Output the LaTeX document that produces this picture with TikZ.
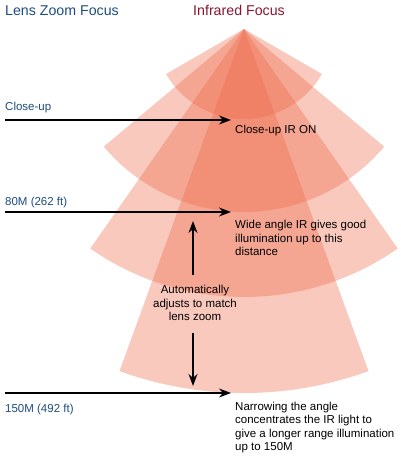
\documentclass[tikz,border=0pt]{standalone}
\usepackage{fontspec}
\setmainfont{Liberation Sans}
\usetikzlibrary{arrows.meta}

\definecolor{zoomblue}{RGB}{28,76,128}
\definecolor{irred}{RGB}{135,22,48}
\definecolor{beamcol}{RGB}{238,104,72}

\tikzset{
  beam/.style={fill=beamcol, fill opacity=0.36},
  pointer/.style={line width=1.4pt, -{Stealth[length=12pt,width=9pt]}},
  txt/.style={inner sep=0pt, font=\fontsize{11.5}{13.6}\selectfont},
  zoomtxt/.style={txt, text=zoomblue, anchor=base west},
}

\begin{document}
\begin{tikzpicture}[x=1pt,y=1pt]
    \useasboundingbox (0,0) rectangle (400,457);
    % infrared beams
    \coordinate (apex) at (244,428);
    \fill[beam] (apex) -- ++(-150:90pt)  arc[start angle=-150, end angle=-30, radius=90pt]  -- cycle;
    \fill[beam] (apex) -- ++(-140:183pt) arc[start angle=-140, end angle=-40, radius=183pt] -- cycle;
    \fill[beam] (apex) -- ++(-125:268pt) arc[start angle=-125, end angle=-55, radius=268pt] -- cycle;
    \fill[beam] (apex) -- ++(-110:364pt) arc[start angle=-110, end angle=-70, radius=364pt] -- cycle;
    % headings
    \node (lenshead) at (5,441) [txt, anchor=base west, text=zoomblue, font=\fontsize{14.2}{16}\selectfont] {Lens Zoom Focus};
    \node (irhead) at (239,441) [txt, anchor=base, text=irred, font=\fontsize{14.2}{16}\selectfont] {Infrared Focus};
    % lens zoom positions
    \node (closelbl) at (5,346) [zoomtxt] {Close-up};
    \node (midlbl) at (5,251) [zoomtxt] {80M (262 ft)};
    \node (farlbl) at (5,44) [zoomtxt] {150M (492 ft)};
    \coordinate (closefrom) at (5,337);
    \coordinate (closeto) at (231,337);
    \coordinate (midfrom) at (5,245);
    \coordinate (midto) at (231,245);
    \coordinate (farfrom) at (5,64);
    \coordinate (farto) at (231,64);
    \draw[pointer] (closefrom) -- (closeto);
    \draw[pointer] (midfrom) -- (midto);
    \draw[pointer] (farfrom) -- (farto);
    % infrared descriptions (base = last line)
    \node (closeir) at (235,323) [txt, anchor=base west] {Close-up IR ON};
    \node (midir) at (235,201) [txt, anchor=base west, align=left]
      {Wide angle IR gives good\\illumination up to this\\distance};
    \node (farir) at (235,6) [txt, anchor=base west, align=left]
      {Narrowing the angle\\concentrates the IR light to\\give a longer range illumination\\up to 150M};
    % zoom adjustment
    \node (autolbl) at (195,136) [txt, anchor=base, align=center]
      {Automatically\\adjusts to match\\lens zoom};
    \coordinate (uptail) at (193,182);
    \coordinate (uptip) at (193,236);
    \coordinate (downtail) at (193,124);
    \coordinate (downtip) at (193,71);
    \draw[pointer] (uptail) -- (uptip);
    \draw[pointer] (downtail) -- (downtip);
\end{tikzpicture}
\end{document}
